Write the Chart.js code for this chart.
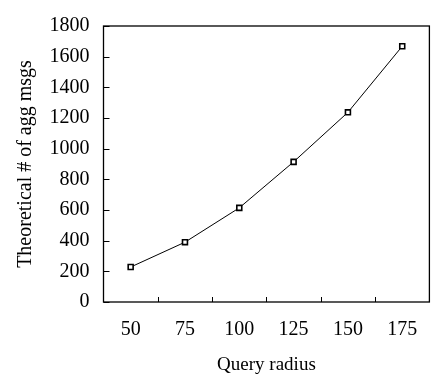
<!DOCTYPE html>
<html><head><meta charset="utf-8">
<script src="https://cdn.jsdelivr.net/npm/chart.js@4"></script>
<style>html,body{margin:0;padding:0;background:#fff}#wrap{width:435px;height:379px}</style>
</head><body><div id="wrap"><canvas id="c"></canvas></div>
<script>
const categories = ['50', '75', '100', '125', '150', '175'];
const aggMsgs = [228, 390, 614, 914, 1237, 1668];
const yTicks = [0, 200, 400, 600, 800, 1000, 1200, 1400, 1600, 1800];
const xTitle = 'Query radius';
const yTitle = 'Theoretical # of agg msgs';

const FONT = "'Liberation Serif', 'Times New Roman', serif";

const frame = {
  id: 'frame',
  afterDatasetsDraw(chart) {
    const {ctx, chartArea: a, scales: {x, y}} = chart;
    ctx.save();
    ctx.strokeStyle = '#000';
    ctx.lineWidth = 1;
    ctx.beginPath();
    yTicks.forEach(v => {
      const py = Math.round(y.getPixelForValue(v)) + 0.5;
      ctx.moveTo(a.left, py); ctx.lineTo(a.left + 6, py);
    });
    for (let i = 0; i < categories.length - 1; i++) {
      const px = Math.round(x.getPixelForValue(i + 0.5)) + 0.5;
      ctx.moveTo(px, a.bottom); ctx.lineTo(px, a.bottom - 5);
    }
    ctx.stroke();
    ctx.lineWidth = 1.3;
    ctx.strokeRect(a.left, a.top, a.right - a.left, a.bottom - a.top);
    ctx.restore();
  }
};

new Chart(document.getElementById('c'), {
  type: 'line',
  data: {
    labels: categories,
    datasets: [{
      data: aggMsgs,
      borderColor: '#000',
      borderWidth: 1,
      pointStyle: 'rect',
      pointRadius: 3.5,
      pointBorderWidth: 1.6,
      pointBorderColor: '#000',
      pointBackgroundColor: '#fff',
      tension: 0
    }]
  },
  options: {
    responsive: true,
    maintainAspectRatio: false,
    animation: false,
    events: [],
    layout: {padding: {top: 13, right: 2, left: 0, bottom: 0}},
    plugins: {legend: {display: false}, tooltip: {enabled: false}},
    scales: {
      x: {
        type: 'category',
        offset: true,
        grid: {display: false, drawTicks: false},
        border: {display: false},
        ticks: {color: '#000', padding: 16, font: {family: FONT, size: 20}, maxRotation: 0},
        title: {display: true, text: xTitle, color: '#000', font: {family: FONT, size: 19}, padding: {top: 0, bottom: 3}},
        afterFit: s => { s.height = 77; }
      },
      y: {
        min: 0, max: 1800,
        afterBuildTicks: s => { s.ticks = yTicks.map(v => ({value: v})); },
        grid: {display: false, drawTicks: false},
        border: {display: false},
        ticks: {color: '#000', padding: 14, font: {family: FONT, size: 20}, callback: v => String(v)},
        title: {display: true, text: yTitle, color: '#000', font: {family: FONT, size: 20}, padding: {top: 14, bottom: 0}},
        afterFit: s => { s.width = 103.5; }
      }
    }
  },
  plugins: [frame]
});
</script></body></html>
